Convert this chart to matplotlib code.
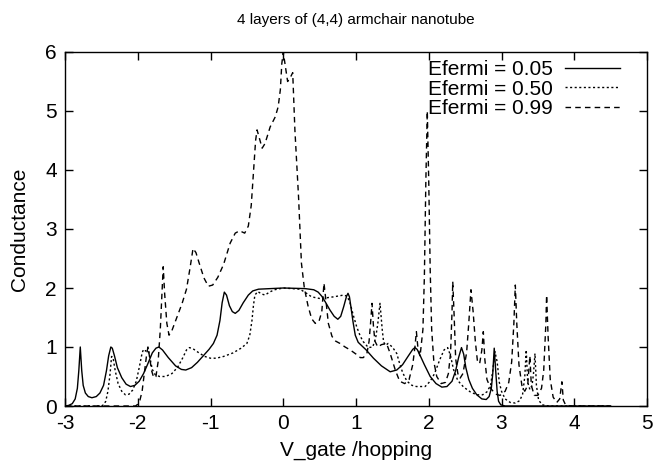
import matplotlib
matplotlib.use("Agg")
import matplotlib.pyplot as plt

plt.rcParams['font.family'] = ['Liberation Sans', 'DejaVu Sans']

title = "4 layers of (4,4) armchair nanotube"
xlabel = "V_gate /hopping"
ylabel = "Conductance"
labels = ["Efermi = 0.05", "Efermi = 0.50", "Efermi = 0.99"]
xticks = [-3, -2, -1, 0, 1, 2, 3, 4, 5]
yticks = [0, 1, 2, 3, 4, 5, 6]

# Efermi = 0.05 (solid)
v1 = [-3.0, -2.95, -2.90, -2.86, -2.83, -2.81, -2.79, -2.77, -2.75, -2.72, -2.68, -2.63,
      -2.57, -2.52, -2.47, -2.43, -2.40, -2.37, -2.35, -2.32, -2.28, -2.22, -2.16, -2.10,
      -2.04, -1.98, -1.92, -1.86, -1.80, -1.75, -1.71, -1.66, -1.58, -1.48, -1.40, -1.34,
      -1.26, -1.18, -1.10, -1.02, -0.96, -0.91, -0.87, -0.84, -0.81, -0.78, -0.74, -0.70,
      -0.66, -0.61, -0.55, -0.48, -0.42, -0.34, 0.0, 0.30, 0.42, 0.48, 0.53, 0.58,
      0.64, 0.70, 0.75, 0.79, 0.83, 0.87, 0.89, 0.91, 0.93, 0.96, 0.99, 1.03,
      1.08, 1.14, 1.24, 1.35, 1.47, 1.56, 1.64, 1.72, 1.78, 1.81, 1.84, 1.88,
      1.94, 2.02, 2.10, 2.18, 2.25, 2.32, 2.37, 2.41, 2.45, 2.48, 2.51, 2.55,
      2.60, 2.66, 2.73, 2.79, 2.83, 2.86, 2.88, 2.90, 2.92, 2.94, 2.96, 2.99,
      3.05, 4.5]
g1 = [0.0, 0.01, 0.04, 0.12, 0.3, 0.6, 1.0, 0.6, 0.35, 0.22, 0.16, 0.14,
      0.16, 0.22, 0.35, 0.6, 0.85, 1.0, 0.98, 0.85, 0.65, 0.48, 0.37, 0.33,
      0.35, 0.42, 0.55, 0.72, 0.9, 0.98, 1.0, 0.95, 0.82, 0.68, 0.62, 0.61,
      0.65, 0.74, 0.85, 0.96, 1.06, 1.2, 1.45, 1.75, 1.93, 1.88, 1.7, 1.6,
      1.57, 1.62, 1.75, 1.88, 1.95, 1.98, 2.0, 1.99, 1.97, 1.93, 1.86, 1.76,
      1.63, 1.52, 1.47, 1.52, 1.68, 1.86, 1.91, 1.85, 1.68, 1.42, 1.2, 1.08,
      1.02, 0.95, 0.81, 0.68, 0.58, 0.61, 0.7, 0.85, 0.96, 0.99, 0.96, 0.86,
      0.7, 0.5, 0.38, 0.32, 0.33, 0.42, 0.6, 0.82, 0.99, 0.88, 0.65, 0.45,
      0.3, 0.19, 0.12, 0.11, 0.16, 0.3, 0.55, 0.98, 0.6, 0.25, 0.08, 0.02,
      0.0, 0.0]

# Efermi = 0.50 (dotted)
v2 = [-3.0, -2.5, -2.47, -2.44, -2.41, -2.38, -2.36, -2.34, -2.31, -2.27, -2.22, -2.17,
      -2.12, -2.07, -2.02, -1.98, -1.94, -1.92, -1.89, -1.86, -1.83, -1.80, -1.76, -1.70,
      -1.62, -1.53, -1.45, -1.38, -1.33, -1.29, -1.24, -1.17, -1.08, -1.00, -0.92, -0.82,
      -0.69, -0.58, -0.50, -0.46, -0.43, -0.41, -0.39, -0.35, -0.30, -0.25, -0.19, -0.12,
      0.0, 0.23, 0.32, 0.39, 0.51, 0.69, 0.83, 0.88, 0.92, 0.96, 1.01, 1.06,
      1.10, 1.17, 1.23, 1.27, 1.30, 1.33, 1.36, 1.38, 1.41, 1.44, 1.50, 1.56,
      1.60, 1.64, 1.70, 1.77, 1.83, 1.95, 2.02, 2.08, 2.15, 2.21, 2.26, 2.30,
      2.34, 2.40, 2.48, 2.57, 2.66, 2.74, 2.80, 2.85, 2.88, 2.91, 2.94, 2.97,
      3.0, 3.05, 3.12, 3.19, 3.25, 3.29, 3.32, 3.34, 3.36, 3.39, 3.42, 3.44,
      3.46, 3.48, 3.51, 3.56, 3.65, 4.5]
g2 = [0.0, 0.0, 0.02, 0.08, 0.25, 0.55, 0.84, 0.82, 0.6, 0.38, 0.25, 0.19,
      0.2, 0.27, 0.42, 0.65, 0.9, 0.96, 0.93, 0.99, 0.8, 0.62, 0.53, 0.5,
      0.5, 0.55, 0.66, 0.82, 0.95, 0.99, 0.97, 0.91, 0.84, 0.81, 0.81, 0.84,
      0.9, 0.98, 1.06, 1.2, 1.45, 1.7, 1.88, 1.94, 1.9, 1.88, 1.93, 1.97,
      2.0, 1.98, 1.91, 1.85, 1.82, 1.85, 1.88, 1.86, 1.74, 1.55, 1.34, 1.18,
      1.09, 0.99, 1.0, 1.15, 1.4, 1.74, 1.3, 1.08, 1.03, 1.06, 1.0, 0.89,
      0.72, 0.57, 0.42, 0.35, 0.33, 0.33, 0.42, 0.55, 0.78, 0.95, 0.99, 0.85,
      0.62, 0.43, 0.32, 0.24, 0.19, 0.19, 0.24, 0.35, 0.6, 0.92, 0.75, 0.4,
      0.25, 0.12, 0.06, 0.05, 0.09, 0.2, 0.5, 0.95, 0.4, 0.28, 0.35, 0.55,
      0.89, 0.35, 0.1, 0.02, 0.0, 0.0]

# Efermi = 0.99 (dashed)
v3 = [-3.0, -2.03, -2.0, -1.97, -1.94, -1.91, -1.88, -1.86, -1.84, -1.81, -1.78, -1.75,
      -1.72, -1.69, -1.66, -1.65, -1.63, -1.60, -1.57, -1.53, -1.46, -1.39, -1.33, -1.28,
      -1.24, -1.20, -1.15, -1.09, -1.03, -0.97, -0.90, -0.82, -0.73, -0.66, -0.60, -0.53,
      -0.48, -0.44, -0.41, -0.38, -0.36, -0.33, -0.29, -0.25, -0.18, -0.11, -0.07, -0.04,
      -0.02, 0.0, 0.03, 0.06, 0.09, 0.13, 0.16, 0.21, 0.25, 0.29, 0.34, 0.39,
      0.44, 0.49, 0.53, 0.56, 0.59, 0.62, 0.67, 0.72, 0.78, 0.85, 0.92, 1.0,
      1.06, 1.10, 1.15, 1.18, 1.20, 1.22, 1.24, 1.26, 1.30, 1.35, 1.42, 1.47,
      1.54, 1.60, 1.67, 1.73, 1.78, 1.81, 1.83, 1.85, 1.88, 1.92, 1.94, 1.96,
      1.98, 2.0, 2.02, 2.04, 2.07, 2.11, 2.17, 2.23, 2.27, 2.30, 2.32, 2.33,
      2.35, 2.37, 2.40, 2.43, 2.47, 2.52, 2.55, 2.58, 2.61, 2.64, 2.67, 2.70,
      2.73, 2.75, 2.77, 2.80, 2.85, 2.92, 2.98, 3.05, 3.10, 3.14, 3.17, 3.19,
      3.21, 3.24, 3.28, 3.32, 3.36, 3.39, 3.41, 3.45, 3.50, 3.55, 3.58, 3.61,
      3.62, 3.64, 3.67, 3.71, 3.76, 3.80, 3.83, 3.85, 3.88, 3.95, 4.5]
g3 = [0.0, 0.0, 0.03, 0.1, 0.25, 0.55, 0.85, 1.0, 0.85, 0.6, 0.48, 0.5,
      0.75, 1.3, 2.1, 2.36, 1.9, 1.4, 1.2, 1.28, 1.51, 1.74, 1.98, 2.35,
      2.67, 2.6, 2.4, 2.17, 2.03, 2.05, 2.18, 2.4, 2.76, 2.93, 2.97, 2.93,
      3.05, 3.4, 3.94, 4.5, 4.68, 4.55, 4.37, 4.45, 4.73, 4.9, 5.07, 5.36,
      5.8, 6.0, 5.75, 5.5, 5.55, 5.65, 4.68, 3.55, 2.42, 2.0, 1.7, 1.48,
      1.40, 1.43, 1.6, 2.08, 1.75, 1.40, 1.18, 1.1, 1.06, 1.0, 0.95, 0.88,
      0.82, 0.82, 0.89, 1.1, 1.4, 1.74, 1.35, 1.1, 1.0, 1.04, 1.06, 0.89,
      0.61, 0.42, 0.38, 0.45, 0.7, 1.0, 1.26, 1.0, 0.84, 1.3, 2.2, 3.8,
      5.0, 3.8, 2.3, 1.3, 0.75, 0.5, 0.38, 0.4, 0.55, 0.9, 1.6, 2.11,
      1.5, 0.8, 0.55, 0.47, 0.55, 0.9, 1.4, 1.97, 1.6, 1.1, 0.75, 0.72,
      0.95, 1.26, 0.8, 0.45, 0.3, 0.2, 0.18, 0.25, 0.4, 0.75, 1.4, 2.05,
      1.4, 0.7, 0.35, 0.25, 0.35, 0.85, 0.35, 0.18, 0.18, 0.3, 0.6, 1.4,
      1.88, 1.2, 0.45, 0.15, 0.06, 0.12, 0.41, 0.1, 0.02, 0.0, 0.0]

fig = plt.figure(figsize=(6.54, 4.73), dpi=100)
ax = fig.add_axes([65/654, 1-406/473, 582/654, 354/473])

ax.plot(v1, g1, color='black', lw=1.0, label=labels[0])
ax.plot(v2, g2, color='black', lw=1.0, dashes=(1.5, 1.8), label=labels[1])
ax.plot(v3, g3, color='black', lw=1.0, dashes=(4, 3), label=labels[2])

ax.set_xlim(-3, 5)
ax.set_ylim(0, 6)
ax.set_xticks(xticks)
ax.set_yticks(yticks)
ax.set_xticklabels([str(t) for t in xticks])
ax.set_yticklabels([str(t) for t in yticks])
ax.tick_params(direction='in', length=6, width=1, top=True, right=True,
               labelsize=15, pad=6)
for s in ax.spines.values():
    s.set_linewidth(1.0)

ax.set_title(title, fontsize=11, pad=20)
ax.set_xlabel(xlabel, fontsize=15)
ax.set_ylabel(ylabel, fontsize=15)
ax.xaxis.set_label_coords(0.5, (406-450)/354)
ax.xaxis.label.set_va('center')
ax.yaxis.set_label_coords((20-65)/582, 0.5)
ax.yaxis.label.set_va('center')

leg = ax.legend(loc='upper right', frameon=False, markerfirst=False,
                fontsize=15, handlelength=2.64, handletextpad=0.58, labelspacing=0.03,
                borderaxespad=0.0, borderpad=0.0)
leg.set_bbox_to_anchor((620/654, 1-60/473), transform=fig.transFigure)

fig.savefig('out.png', dpi=100)
